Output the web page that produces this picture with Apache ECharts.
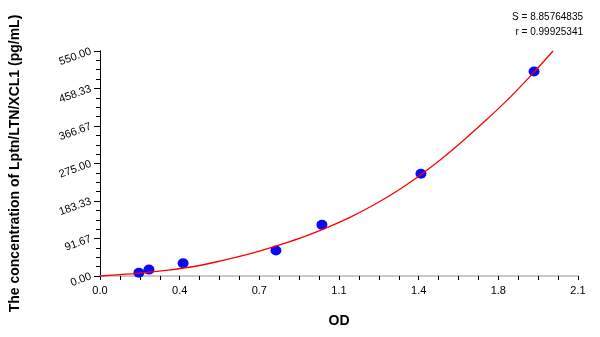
<!DOCTYPE html>
<html>
<head>
<meta charset="utf-8">
<script src="https://cdn.jsdelivr.net/npm/echarts@6/dist/echarts.min.js"></script>
<style>html,body{margin:0;padding:0;background:#fff}#c{width:600px;height:337px}</style>
</head>
<body>
<div id="c"></div>
<script>
// Standard points (OD, concentration pg/mL)
var stdOD = [0.171, 0.215, 0.365, 0.773, 0.975, 1.41, 1.907];
var stdConc = [7.8, 15.6, 31.25, 62.5, 125, 250, 500];
// Fitted curve
var curveOD = [0, 0.1, 0.2, 0.3, 0.4, 0.5, 0.6, 0.7, 0.8, 0.9, 1.0, 1.1, 1.2, 1.3, 1.4, 1.5, 1.6, 1.7, 1.8, 1.9, 1.99];
var curveConc = [0, 4, 8.5, 14.5, 22, 33, 46, 61, 78, 97, 119, 144, 173, 206, 244, 286, 333, 383, 436, 494, 550];
// Tick labels
var xTickLabels = ['0.0', '0.4', '0.7', '1.1', '1.4', '1.8', '2.1'];
var yTickLabels = ['0.00', '91.67', '183.33', '275.00', '366.67', '458.33', '550.00'];
var statS = 'S = 8.85764835';
var statR = 'r = 0.99925341';

var chart = echarts.init(document.getElementById('c'));
var font = 'Liberation Sans, Arial, sans-serif';
var stdData = stdOD.map(function (v, i) { return [v, stdConc[i]]; });
var curveData = curveOD.map(function (v, i) { return [v, curveConc[i]]; });

chart.setOption({
  animation: false,
  backgroundColor: '#fff',
  grid: { left: 100, right: 22, top: 51, bottom: 61, containLabel: false },
  xAxis: [{
    type: 'value', min: 0, max: 2.1, interval: 0.35,
    name: 'OD', nameLocation: 'middle', nameGap: 38,
    nameTextStyle: { fontFamily: font, fontSize: 14, fontWeight: 'bold', color: '#000' },
    axisLine: { show: true, lineStyle: { color: '#000', width: 1 } },
    axisTick: { show: true, length: 4, lineStyle: { color: '#000' } },
    minorTick: { show: true, splitNumber: 4, length: 4, lineStyle: { color: '#000' } },
    axisLabel: { fontFamily: font, fontSize: 11, color: '#000', margin: 9,
      formatter: function (v, i) { return xTickLabels[i]; } },
    splitLine: { show: false }
  }, {
    type: 'value', min: 0, max: 2.1, position: 'top',
    axisLine: { show: true, lineStyle: { color: '#c8c8c8', width: 2 } },
    axisTick: { show: false }, axisLabel: { show: false }, splitLine: { show: false }
  }],
  yAxis: [{
    type: 'value', min: 0, max: 550, interval: 550 / 6,
    name: 'The concentration of Lptn/LTN/XCL1 (pg/mL)', nameLocation: 'middle', nameGap: 78, nameRotate: 90,
    nameTextStyle: { fontFamily: font, fontSize: 14, fontWeight: 'bold', color: '#000' },
    axisLine: { show: true, lineStyle: { color: '#000', width: 1 } },
    axisTick: { show: true, length: 6, lineStyle: { color: '#000' } },
    minorTick: { show: true, splitNumber: 4, length: 4, lineStyle: { color: '#000' } },
    axisLabel: { fontFamily: font, fontSize: 11, color: '#000', rotate: 20, margin: 9,
      formatter: function (v, i) { return yTickLabels[i]; } },
    splitLine: { show: false }
  }, {
    type: 'value', min: 0, max: 550, position: 'right',
    axisLine: { show: true, lineStyle: { color: '#000', width: 1 } },
    axisTick: { show: false }, axisLabel: { show: false }, splitLine: { show: false }
  }],
  graphic: [
    { type: 'text', right: 17, top: 12, style: { text: statS, fontFamily: font, fontSize: 10, fill: '#000', textAlign: 'right' } },
    { type: 'text', right: 17, top: 27, style: { text: statR, fontFamily: font, fontSize: 10, fill: '#000', textAlign: 'right' } }
  ],
  series: [{
    type: 'scatter', data: stdData, symbol: 'circle', symbolSize: [11, 10],
    itemStyle: { color: '#0a0af5', opacity: 1 }, z: 2
  }, {
    type: 'line', data: curveData, smooth: 0.3, showSymbol: false, symbol: 'none',
    lineStyle: { color: '#ff0000', width: 1.3 }, z: 3, clip: false
  }]
});
</script>
</body>
</html>
